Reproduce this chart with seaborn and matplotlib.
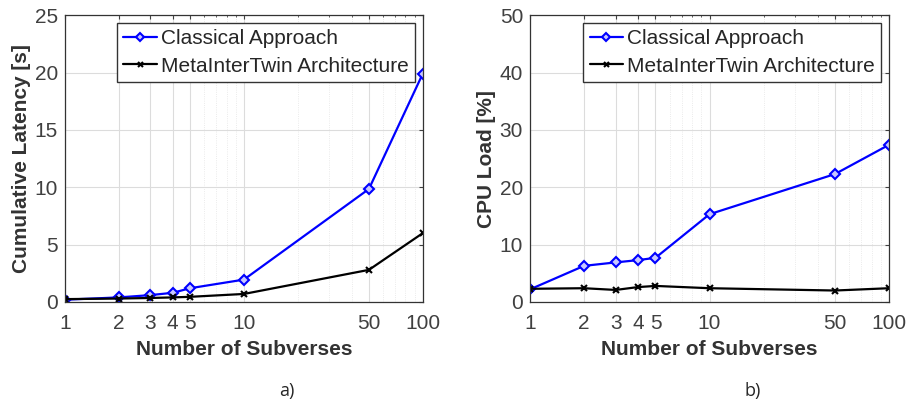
import pandas as pd
import numpy as np
import matplotlib
matplotlib.use('Agg')
import matplotlib.pyplot as plt
import seaborn as sns
from matplotlib.ticker import FixedLocator, NullFormatter, LogLocator

subverses = [1, 2, 3, 4, 5, 10, 50, 100]
latency_classical = [0.2, 0.4, 0.6, 0.8, 1.2, 1.95, 9.85, 19.9]
latency_meta = [0.25, 0.3, 0.35, 0.4, 0.45, 0.7, 2.8, 6.0]
cpu_classical = [2.2, 6.3, 6.9, 7.3, 7.7, 15.3, 22.3, 27.4]
cpu_meta = [2.3, 2.4, 2.1, 2.6, 2.8, 2.4, 2.0, 2.4]
series_names = ['Classical Approach', 'MetaInterTwin Architecture']
tick_values = [1, 2, 3, 4, 5, 10, 50, 100]

sns.set_style('white')
plt.rcParams['font.family'] = ['Liberation Sans', 'DejaVu Sans']

fig = plt.figure(figsize=(9.08, 4.04), dpi=100)
ax1 = fig.add_axes([0.0716, 0.2525, 0.394, 0.710])
ax2 = fig.add_axes([0.5837, 0.2525, 0.3954, 0.710])


def draw(ax, classical, meta, ymax, ylabel, letter):
    l1 = sns.lineplot(x=subverses, y=classical, ax=ax, color='#0000ff', linewidth=1.6,
                      marker='D', markersize=5, markerfacecolor='#c8c8ff',
                      markeredgecolor='#0000ff', markeredgewidth=1.5,
                      label=series_names[0], legend=False).get_lines()[-1]
    l2 = sns.lineplot(x=subverses, y=meta, ax=ax, color='#000000', linewidth=1.6,
                      marker='x', markersize=4, markeredgecolor='#000000',
                      markeredgewidth=1.5, label=series_names[1],
                      legend=False).get_lines()[-1]
    ax.set_xscale('log')
    ax.set_xlim(1, 100)
    ax.set_ylim(0, ymax)
    ax.xaxis.set_major_locator(FixedLocator(tick_values))
    ax.set_xticklabels([str(t) for t in tick_values])
    ax.xaxis.set_minor_locator(LogLocator(base=10, subs=np.arange(2, 10)))
    ax.xaxis.set_minor_formatter(NullFormatter())
    ax.set_yticks(np.linspace(0, ymax, 6))
    ax.grid(True, which='major', color='#dcdcdc', linewidth=0.8)
    ax.grid(True, which='minor', axis='x', color='#e4e4e4', linewidth=0.6, linestyle=':')
    ax.tick_params(axis='x', which='major', labelsize=15, colors='#404040',
                   direction='in', length=3, top=True, pad=9)
    ax.tick_params(axis='y', which='major', labelsize=15, colors='#404040',
                   direction='in', length=3, right=True, pad=5)
    ax.tick_params(axis='x', which='minor', direction='in', length=1.5, top=True, colors='#404040')
    for s in ax.spines.values():
        s.set_color('#333333')
        s.set_linewidth(0.9)
    ax.set_xlabel('Number of Subverses', fontsize=15, fontweight='bold', color='#333333', labelpad=5)
    ax.set_ylabel(ylabel, fontsize=15, fontweight='bold', color='#333333', labelpad=3)
    ax.legend([l1, l2], series_names, loc='upper right', bbox_to_anchor=(0.978, 0.972),
              fontsize=15, frameon=True, fancybox=False, edgecolor='#333333',
              framealpha=1, handlelength=1.6, handletextpad=0.2, labelspacing=0.4,
              borderpad=0.3, borderaxespad=0, markerscale=0.9)
    ax.text(0.62, -0.31, letter, transform=ax.transAxes, fontsize=13, ha='center', va='center',
            family=['Open Sans', 'DejaVu Sans'])


draw(ax1, latency_classical, latency_meta, 25, 'Cumulative Latency [s]', 'a)')
draw(ax2, cpu_classical, cpu_meta, 50, 'CPU Load [%]', 'b)')

fig.savefig('out.png', dpi=100)
